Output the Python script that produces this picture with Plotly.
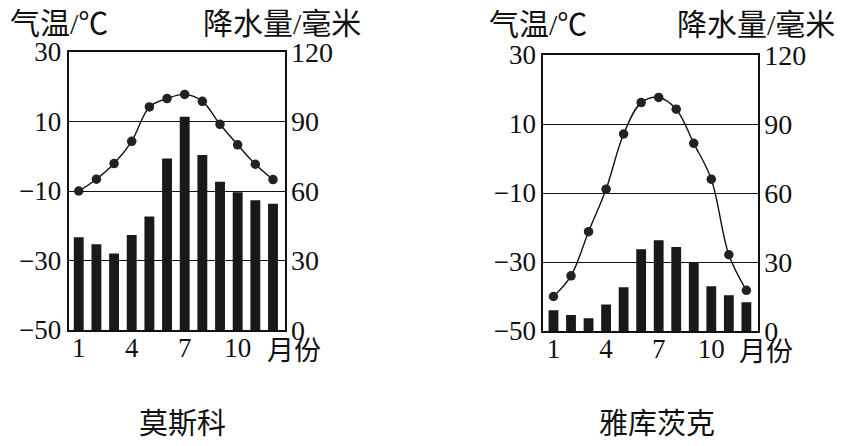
import plotly.graph_objects as go

months = [1, 2, 3, 4, 5, 6, 7, 8, 9, 10, 11, 12]
month_ticks = [1, 4, 7, 10]
month_tick_labels = ["1", "4", "7", "10"]

moscow_temp = [-10, -6.6, -2.1, 4.3, 14.2, 16.6, 17.8, 15.8, 9.2, 3.3, -2.3, -6.7]
moscow_precip = [40, 37, 33, 41, 49, 74, 92, 75.5, 64, 59.5, 56, 54.5]
yakutsk_temp = [-40, -34, -21.2, -8.9, 7.1, 16.2, 17.7, 14.3, 4.4, -6.0, -27.9, -38.2]
yakutsk_precip = [9, 7, 5.5, 11.5, 19, 35.5, 39.5, 36.5, 30, 19.5, 15.5, 12.5]

temp_ticks = [-50, -30, -10, 10, 30]
precip_ticks = [0, 30, 60, 90, 120]

city_names = ["莫斯科", "雅库茨克"]
temp_title = "气温/℃"
precip_title = "降水量/毫米"
month_unit = "月份"

SERIF = "Liberation Serif, Times New Roman, serif"
CJK = "Liberation Serif, Noto Sans CJK SC, serif"
INK = "#111111"

# the page body has an 8px margin, so the figure starts at (8, 8) in the window
OFF = 8
W, H = 845 - OFF, 446 - OFF

def px(X):
    return (X - OFF) / W

def py(Y):
    return 1 - (Y - OFF) / H

fig = go.Figure()

def add_city(temp, precip, xa, ya_t, ya_p):
    fig.add_trace(go.Bar(x=months, y=precip, xaxis=xa, yaxis=ya_p, width=0.56,
                         marker=dict(color="#1a1818", line=dict(width=0)),
                         showlegend=False, hoverinfo="skip"))
    fig.add_trace(go.Scatter(x=months, y=temp, xaxis=xa, yaxis=ya_t,
                             mode="lines+markers",
                             line=dict(color=INK, width=1.4, shape="spline", smoothing=1),
                             marker=dict(color="#222222", size=9.5),
                             showlegend=False, hoverinfo="skip"))

add_city(moscow_temp, moscow_precip, "x", "y", "y2")
add_city(yakutsk_temp, yakutsk_precip, "x2", "y3", "y4")

def xax(domain, anchor):
    return dict(domain=domain, anchor=anchor, range=[0.42, 12.68], automargin=False,
                tickmode="array", tickvals=month_ticks, ticktext=month_tick_labels,
                showgrid=False, zeroline=False, ticks="", showline=True, mirror=True,
                linecolor=INK, linewidth=1.6, ticklabelstandoff=-7,
                tickfont=dict(family=SERIF, size=27, color=INK))

def yax_t(domain, anchor):
    return dict(domain=domain, anchor=anchor, range=[-50, 30], automargin=False,
                tickmode="array", tickvals=temp_ticks,
                showgrid=True, gridcolor=INK, gridwidth=1.4, zeroline=False,
                ticks="", showline=True, mirror=True, linecolor=INK, linewidth=1.6,
                tickfont=dict(family=SERIF, size=27, color=INK))

def yax_p(overlay, anchor):
    return dict(overlaying=overlay, anchor=anchor, side="right", range=[0, 120],
                automargin=False, ticklabelstandoff=5,
                tickmode="array", tickvals=precip_ticks,
                showgrid=False, zeroline=False, ticks="", showline=False,
                tickfont=dict(family=SERIF, size=28, color=INK))

left_x = [px(68.5), px(285)]
right_x = [px(543.3), px(758.3)]
left_y = [py(330), py(52)]
right_y = [py(331), py(55)]

annotations = []
def ann(text, X, Y, xanchor, size, family=CJK):
    annotations.append(dict(text=text, x=px(X), y=py(Y), xref="paper", yref="paper",
                            xanchor=xanchor, yanchor="middle", showarrow=False,
                            font=dict(family=family, size=size, color=INK)))

ann(temp_title, 8, 23, "left", 30)
ann(precip_title, 363, 23, "right", 30)
ann(temp_title, 487, 24, "left", 30)
ann(precip_title, 837, 24, "right", 30)
ann(month_unit, 294, 351, "center", 27)
ann(month_unit, 766, 352, "center", 27)
ann(city_names[0], 182, 421, "center", 29, "Noto Sans CJK SC")
ann(city_names[1], 657, 421, "center", 29, "Noto Sans CJK SC")

fig.update_layout(
    width=W, height=H,
    margin=dict(l=0, r=0, t=0, b=0, pad=0, autoexpand=False),
    paper_bgcolor="white", plot_bgcolor="white",
    barmode="overlay",
    showlegend=False,
    xaxis=xax(left_x, "y"),
    yaxis=yax_t(left_y, "x"),
    yaxis2=yax_p("y", "x"),
    xaxis2=xax(right_x, "y3"),
    yaxis3=yax_t(right_y, "x2"),
    yaxis4=yax_p("y3", "x2"),
    annotations=annotations,
)

fig.write_html("out.html")
